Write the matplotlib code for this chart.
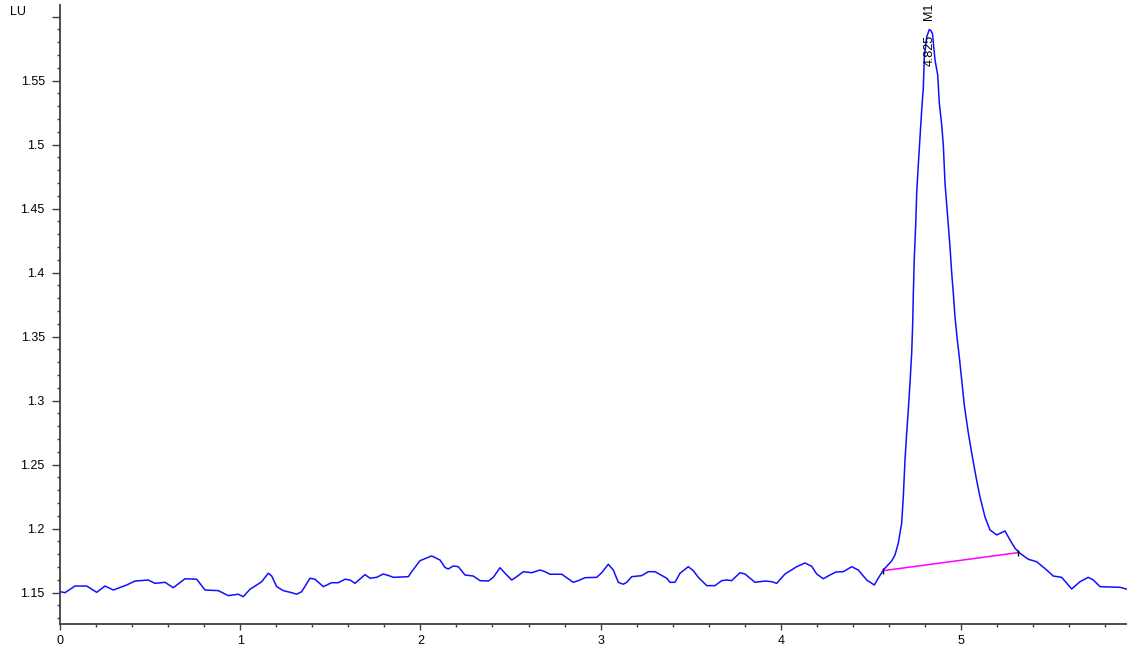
import matplotlib
matplotlib.use("Agg")
import matplotlib.pyplot as plt
from matplotlib.ticker import MultipleLocator

# ======================
# data
# ======================
time_min = [
    0.0000, 0.0277, 0.0832, 0.1482, 0.2037, 0.2497, 0.2958, 0.3701, 0.4162, 0.4900,
    0.5272, 0.5827, 0.6287, 0.6937, 0.7586, 0.8047, 0.8785, 0.9340, 0.9895, 1.0172,
    1.0544, 1.0916, 1.1193, 1.1559, 1.1748, 1.2026, 1.2392, 1.2858, 1.3135, 1.3413,
    1.3873, 1.4151, 1.4612, 1.5078, 1.5444, 1.5816, 1.6093, 1.6371, 1.6926, 1.7203,
    1.7575, 1.7941, 1.8313, 1.8496, 1.9329, 1.9517, 1.9978, 2.0627, 2.1088, 2.1365,
    2.1548, 2.1826, 2.2103, 2.2475, 2.2936, 2.3307, 2.3768, 2.4046, 2.4417, 2.4695,
    2.5067, 2.5344, 2.5710, 2.6177, 2.6637, 2.6915, 2.7192, 2.7841, 2.8485, 2.8762,
    2.9134, 2.9784, 3.0061, 3.0427, 3.0705, 3.0983, 3.1260, 3.1448, 3.1726, 3.2281,
    3.2647, 3.3019, 3.3668, 3.3851, 3.4129, 3.4406, 3.4867, 3.5144, 3.5422, 3.5888,
    3.6348, 3.6720, 3.6998, 3.7275, 3.7736, 3.8013, 3.8568, 3.9123, 3.9495, 3.9772,
    4.0233, 4.0883, 4.1343, 4.1715, 4.1992, 4.2358, 4.2730, 4.3063, 4.3468, 4.3934,
    4.4301, 4.4767, 4.5189, 4.5411, 4.5688, 4.6154, 4.6337, 4.6521, 4.6709, 4.6798,
    4.6892, 4.6987, 4.7075, 4.7170, 4.7264, 4.7320, 4.7353, 4.7408, 4.7486, 4.7542,
    4.7630, 4.7725, 4.7819, 4.7908, 4.7964, 4.8097, 4.8241, 4.8335, 4.8418, 4.8557,
    4.8707, 4.8796, 4.8929, 4.9018, 4.9112, 4.9206, 4.9295, 4.9390, 4.9484, 4.9573,
    4.9667, 4.9795, 4.9906, 5.0039, 5.0183, 5.0405, 5.0594, 5.0833, 5.1054, 5.1332,
    5.1609, 5.1981, 5.2442, 5.2719, 5.2997, 5.3274, 5.3735, 5.4201, 5.4756, 5.5122,
    5.5588, 5.6143, 5.6604, 5.7064, 5.7342, 5.7714, 5.8824, 5.9212,
]
signal_lu = [
    1.1508, 1.1500, 1.1552, 1.1552, 1.1503, 1.1552, 1.1521, 1.1560, 1.1591, 1.1599,
    1.1573, 1.1581, 1.1539, 1.1609, 1.1605, 1.1521, 1.1516, 1.1477, 1.1488, 1.1469,
    1.1527, 1.1560, 1.1586, 1.1652, 1.1630, 1.1547, 1.1516, 1.1500, 1.1488, 1.1508,
    1.1613, 1.1605, 1.1547, 1.1578, 1.1578, 1.1605, 1.1599, 1.1573, 1.1641, 1.1613,
    1.1620, 1.1646, 1.1630, 1.1620, 1.1625, 1.1664, 1.1750, 1.1787, 1.1755, 1.1697,
    1.1685, 1.1709, 1.1703, 1.1638, 1.1630, 1.1594, 1.1591, 1.1620, 1.1695, 1.1652,
    1.1599, 1.1625, 1.1664, 1.1656, 1.1677, 1.1664, 1.1644, 1.1644, 1.1581, 1.1594,
    1.1617, 1.1620, 1.1656, 1.1722, 1.1677, 1.1581, 1.1566, 1.1581, 1.1625, 1.1633,
    1.1664, 1.1664, 1.1613, 1.1581, 1.1581, 1.1652, 1.1703, 1.1672, 1.1620, 1.1555,
    1.1555, 1.1594, 1.1599, 1.1594, 1.1656, 1.1646, 1.1581, 1.1591, 1.1586, 1.1573,
    1.1646, 1.1703, 1.1732, 1.1706, 1.1646, 1.1609, 1.1638, 1.1662, 1.1664, 1.1703,
    1.1677, 1.1599, 1.1560, 1.1613, 1.1677, 1.1748, 1.1795, 1.1888, 1.2045, 1.2248,
    1.2537, 1.2748, 1.2927, 1.3138, 1.3373, 1.3607, 1.3826, 1.4115, 1.4373, 1.4623,
    1.4841, 1.5060, 1.5271, 1.5443, 1.5685, 1.5841, 1.5900, 1.5890, 1.5865, 1.5662,
    1.5545, 1.5326, 1.5154, 1.4998, 1.4701, 1.4529, 1.4357, 1.4201, 1.3998, 1.3841,
    1.3654, 1.3474, 1.3341, 1.3162, 1.2966, 1.2748, 1.2591, 1.2404, 1.2248, 1.2091,
    1.1990, 1.1951, 1.1982, 1.1912, 1.1847, 1.1808, 1.1761, 1.1742, 1.1677, 1.1630,
    1.1620, 1.1529, 1.1586, 1.1620, 1.1599, 1.1547, 1.1542, 1.1527,
]

# integration baseline of peak M1
baseline_t = [4.5688, 5.3174]
baseline_y = [1.1672, 1.1813]

peak_rt = 4.825
peak_name = "M1"
peak_top = 1.5857

ytick_vals = [1.15, 1.2, 1.25, 1.3, 1.35, 1.4, 1.45, 1.5, 1.55, 1.6]
ytick_labels = ["1.15", "1.2", "1.25", "1.3", "1.35", "1.4", "1.45", "1.5", "1.55", ""]
xtick_vals = [0, 1, 2, 3, 4, 5]

# ======================
# figure
# ======================
plt.rcParams["font.family"] = ["Liberation Sans", "DejaVu Sans"]
plt.rcParams["font.size"] = 9

W, H = 1127, 649
fig = plt.figure(figsize=(W / 100, H / 100), dpi=100)
ax = fig.add_axes([60 / W, (H - 624.3) / H, (W - 60) / W, (624.3 - 5) / H])

ax.plot(time_min, signal_lu, color="#1010ff", lw=1.1)
ax.plot(baseline_t, baseline_y, color="#ff00ff", lw=1.1)
ax.plot(baseline_t, baseline_y, ls="none", marker="|", color="black", ms=4, mew=1)

# peak label
ax.text(peak_rt, peak_top, f"{peak_rt:.3f}", rotation=90, ha="center", va="top",
        fontsize=9, color="black")
ax.text(peak_rt, 1.5974, peak_name, rotation=90, ha="center", va="bottom",
        fontsize=9, color="black", clip_on=False)

ax.set_xlim(0, 5.9212)
ax.set_ylim(1.1253, 1.6091)

ax.set_xticks(xtick_vals)
ax.set_xticklabels([str(v) for v in xtick_vals])
ax.set_yticks(ytick_vals)
ax.set_yticklabels(ytick_labels)
ax.xaxis.set_minor_locator(MultipleLocator(0.2))
ax.yaxis.set_minor_locator(MultipleLocator(0.01))

for s in ["top", "right"]:
    ax.spines[s].set_visible(False)
for s in ["left", "bottom"]:
    ax.spines[s].set_color("#404040")
    ax.spines[s].set_linewidth(1.3)

ax.tick_params(axis="y", which="major", length=6, width=1, color="#404040", pad=5)
ax.tick_params(axis="y", which="minor", length=2.5, width=1, color="#404040")
ax.tick_params(axis="x", which="major", length=4.5, width=1, color="#404040", pad=3)
ax.tick_params(axis="x", which="minor", length=2.5, width=1, color="#404040")

fig.text(10 / W, 1 - 12 / H, "LU", ha="left", va="center", fontsize=9)

fig.savefig("out.png", dpi=100)
